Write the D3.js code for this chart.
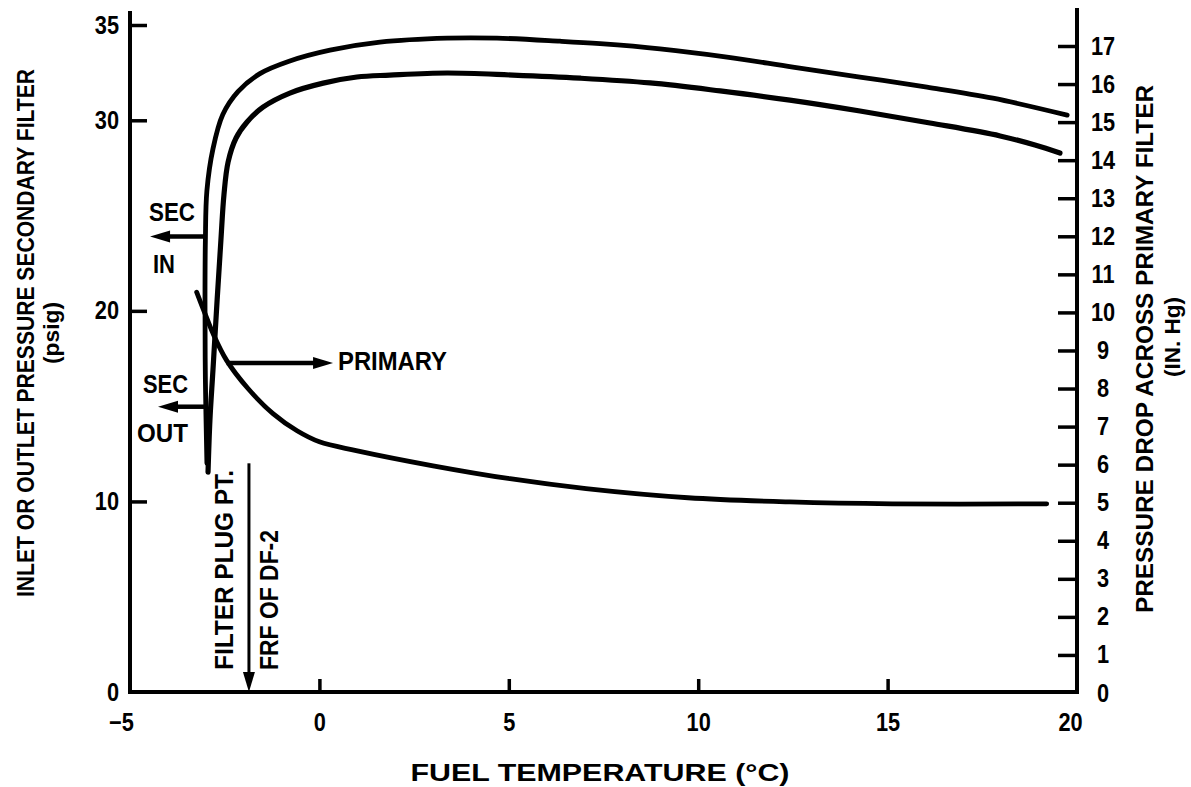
<!DOCTYPE html>
<html>
<head>
<meta charset="utf-8">
<script src="https://cdn.jsdelivr.net/npm/d3@7"></script>
<style>
  body { margin: 0; background: #fff; }
  text { font-family: "Liberation Sans", Arial, sans-serif; font-weight: bold; fill: #000; }
</style>
</head>
<body>
<svg id="chart" width="1191" height="787"></svg>
<script>
// fuel temperature (C) vs secondary filter pressure (psig)
const secInCurve = [
  [-2.97, 12.0], [-3.01, 16.4], [-3.02, 20.6], [-3.01, 23.7], [-2.97, 26.3],
  [-2.81, 28.5], [-2.55, 30.3], [-2.15, 31.5], [-1.57, 32.45], [-0.8, 33.1],
  [0.28, 33.68], [1.6, 34.1], [3.37, 34.31], [4.69, 34.31], [6.35, 34.15],
  [7.41, 34.02], [8.99, 33.75], [10.76, 33.32], [12.5, 32.79], [14.27, 32.27],
  [16.04, 31.74], [17.78, 31.16], [19.74, 30.27]
];
const secOutCurve = [
  [-2.94, 11.54], [-2.89, 14.27], [-2.81, 16.89], [-2.70, 20.57], [-2.60, 23.71],
  [-2.52, 26.08], [-2.41, 27.81], [-2.20, 29.07], [-1.91, 29.91], [-1.49, 30.69],
  [-0.78, 31.43], [0.1, 31.95], [0.99, 32.27], [1.86, 32.37], [3.37, 32.48],
  [5.11, 32.37], [6.88, 32.21], [8.73, 31.96], [10.58, 31.54], [12.42, 31.06],
  [14.27, 30.49], [16.12, 29.86], [17.97, 29.18], [18.89, 28.7], [19.55, 28.28]
];
// pressure drop across primary filter (in. Hg)
const primaryCurve = [
  [-3.24, 10.53], [-3.02, 9.97], [-2.81, 9.45], [-2.45, 8.74], [-1.885, 8.0],
  [-1.225, 7.34], [-0.59, 6.89], [0.0, 6.6], [0.97, 6.37], [3.0, 5.97],
  [5.03, 5.63], [7.04, 5.37], [9.73, 5.13], [12.42, 5.02], [15.12, 4.97], [19.2, 4.97]
];

const tempTicks = [-5, 0, 5, 10, 15, 20];
const psigTicks = [0, 10, 20, 30, 35];
const hgTicks = [0, 1, 2, 3, 4, 5, 6, 7, 8, 9, 10, 11, 12, 13, 14, 15, 16, 17];

const svg = d3.select("#chart");

const x = d3.scaleLinear().domain([-5, 20]).range([130, 1077]);
const yL = d3.scaleLinear().domain([0, 35]).range([692, 25]);
const yR = d3.scaleLinear().domain([0, 17]).range([693, 46]);

// squeeze text a bit, the original lettering is condensed
function squeeze(sel, k) {
  sel.each(function () {
    const w = this.getComputedTextLength();
    d3.select(this).attr("textLength", w * k).attr("lengthAdjust", "spacingAndGlyphs");
  });
}

// axes
const gx = svg.append("g")
  .attr("transform", "translate(0,692)")
  .call(d3.axisBottom(x).tickValues(tempTicks).tickSizeInner(-13).tickSizeOuter(0).tickPadding(21));

const gl = svg.append("g")
  .attr("transform", "translate(130,0)")
  .call(d3.axisLeft(yL).tickValues(psigTicks).tickSizeInner(-17).tickSizeOuter(0).tickPadding(11));

const gr = svg.append("g")
  .attr("transform", "translate(1077,0)")
  .call(d3.axisRight(yR).tickValues(hgTicks).tickSizeInner(-19).tickSizeOuter(0).tickPadding(26));

[gx, gl, gr].forEach(g => {
  g.select(".domain").remove();
  g.selectAll(".tick line").attr("stroke", "#000").attr("stroke-width", 3.5);
  g.selectAll(".tick text").attr("font-size", 25).attr("fill", "#000");
  squeeze(g.selectAll(".tick text"), 0.87);
});
gr.selectAll(".tick text").attr("text-anchor", "middle");
gx.selectAll(".tick").filter(d => d === -5).select("text").attr("dx", -9);
gx.selectAll(".tick").filter(d => d === 20).select("text").attr("dx", -7);
gx.selectAll(".tick").filter(d => d === -5 || d === 20).select("line").remove();
gl.selectAll(".tick").filter(d => d === 0).select("line").remove();
gr.selectAll(".tick").filter(d => d === 0).select("line").remove();

// axis frame lines
svg.append("line").attr("x1", 130).attr("x2", 130).attr("y1", 11).attr("y2", 694)
  .attr("stroke", "#000").attr("stroke-width", 4);
svg.append("line").attr("x1", 1077).attr("x2", 1077).attr("y1", 8).attr("y2", 694)
  .attr("stroke", "#000").attr("stroke-width", 4);
svg.append("line").attr("x1", 128).attr("x2", 1079).attr("y1", 692).attr("y2", 692)
  .attr("stroke", "#000").attr("stroke-width", 4);

// curves
const lineL = d3.line().x(d => x(d[0])).y(d => yL(d[1])).curve(d3.curveCatmullRom.alpha(0.5));
const lineR = d3.line().x(d => x(d[0])).y(d => yR(d[1])).curve(d3.curveCatmullRom.alpha(0.5));

svg.append("path").datum(secInCurve).attr("d", lineL)
  .attr("fill", "none").attr("stroke", "#000").attr("stroke-width", 4.8).attr("stroke-linecap", "round");
svg.append("path").datum(secOutCurve).attr("d", lineL)
  .attr("fill", "none").attr("stroke", "#000").attr("stroke-width", 5.2).attr("stroke-linecap", "round");
svg.append("path").datum(primaryCurve).attr("d", lineR)
  .attr("fill", "none").attr("stroke", "#000").attr("stroke-width", 4.8).attr("stroke-linecap", "round");

// arrows (from point, to tip), in pixel space
function arrow(x1, y1, x2, y2, w) {
  const len = Math.hypot(x2 - x1, y2 - y1);
  const ux = (x2 - x1) / len, uy = (y2 - y1) / len;
  const head = 20, half = 6;
  const bx = x2 - ux * head, by = y2 - uy * head;
  svg.append("line").attr("x1", x1).attr("y1", y1).attr("x2", bx + ux).attr("y2", by + uy)
    .attr("stroke", "#000").attr("stroke-width", w);
  svg.append("path")
    .attr("d", `M${x2},${y2}L${bx - uy * half},${by + ux * half}L${bx + uy * half},${by - ux * half}Z`)
    .attr("fill", "#000");
}
arrow(x(-3.02), yL(23.9), x(-4.47), yL(23.9), 4.5);
arrow(x(-2.98), yL(14.97), x(-4.26), yL(14.97), 4.5);
arrow(x(-2.45), yR(8.67), x(0.36), yR(8.67), 4.5);
arrow(x(-1.86), yL(12.0), x(-1.86), yL(0), 3);

// labels
function label(txt, px, py, size, len, anchor, rot) {
  const t = svg.append("text")
    .attr("font-size", size)
    .attr("text-anchor", anchor || "start")
    .attr("textLength", len).attr("lengthAdjust", "spacingAndGlyphs")
    .text(txt);
  if (rot) t.attr("transform", `translate(${px},${py}) rotate(-90)`);
  else t.attr("x", px).attr("y", py);
  return t;
}
label("SEC", 149, 221, 25, 46);
label("IN", 153, 273, 25, 22);
label("SEC", 143, 393, 25, 45);
label("OUT", 137, 442, 25, 51);
label("PRIMARY", 338, 370, 25, 109);
label("FILTER PLUG PT.", 233, 670, 25, 200, "start", true);
label("FRF OF DF-2", 278, 670, 25, 140, "start", true);

// axis titles
label("FUEL TEMPERATURE (°C)", 600, 781, 23, 379, "middle");
label("INLET OR OUTLET PRESSURE SECONDARY FILTER", 34, 333, 23, 528, "middle", true);
label("(psig)", 59, 333, 22, 62, "middle", true);
label("PRESSURE DROP ACROSS PRIMARY FILTER", 1153, 349, 24, 528, "middle", true);
label("(IN. Hg)", 1180, 337, 22, 80, "middle", true);
</script>
</body>
</html>
